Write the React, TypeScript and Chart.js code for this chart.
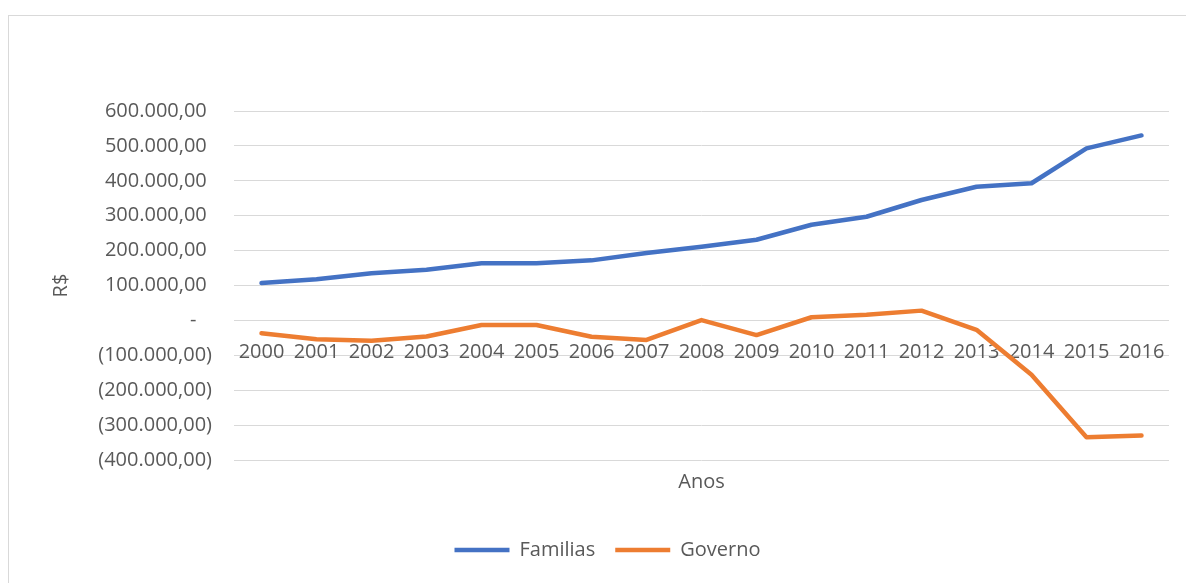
import React, { useEffect, useRef } from "react";
import { Chart, registerables } from "chart.js";

Chart.register(...registerables);

const anos = ["2000", "2001", "2002", "2003", "2004", "2005", "2006", "2007", "2008", "2009", "2010", "2011", "2012", "2013", "2014", "2015", "2016"];
const familias = [107000, 118000, 135000, 145000, 164000, 164000, 172000, 193000, 211000, 231000, 274000, 297000, 345000, 383000, 393000, 493000, 530000];
const governo = [-37000, -54000, -58000, -46000, -13000, -13000, -47000, -56000, 1000, -42000, 9000, 16000, 28000, -27000, -156000, -335000, -330000];
const yMin = -400000;
const yMax = 600000;
const yStep = 100000;

const FONT = "'Open Sans', 'Noto Sans', sans-serif";
const TEXT = "#595959";

function fmtBR(v: number): string {
  const abs = Math.abs(Math.round(v));
  const s = String(abs).replace(/\B(?=(\d{3})+(?!\d))/g, ".") + ",00";
  if (v === 0) return "-   ";
  return v < 0 ? "(" + s + ")" : s + " ";
}

export default function App() {
  const ref = useRef<HTMLCanvasElement | null>(null);
  useEffect(() => {
    document.body.style.margin = "0";
    const canvas = ref.current;
    if (!canvas) return;
    const chart = new Chart(canvas, {
      type: "line",
      data: {
        labels: anos,
        datasets: [
          {
            label: "Familias",
            data: familias,
            borderColor: "#4472C4",
            backgroundColor: "#4472C4",
            borderWidth: 4.5,
            borderCapStyle: "round",
            borderJoinStyle: "round",
            pointRadius: 0,
            tension: 0,
            xAxisID: "x",
          },
          {
            label: "Governo",
            data: governo,
            borderColor: "#ED7D31",
            backgroundColor: "#ED7D31",
            borderWidth: 4.5,
            borderCapStyle: "round",
            borderJoinStyle: "round",
            pointRadius: 0,
            tension: 0,
            xAxisID: "x",
          },
        ],
      },
      options: {
        responsive: false,
        animation: false,
        layout: { padding: { left: 46, right: 17, top: 111, bottom: 13 } },
        plugins: {
          tooltip: { enabled: false },
          legend: {
            display: true,
            position: "bottom",
            labels: {
              usePointStyle: true,
              pointStyle: "line",
              pointStyleWidth: 55,
              padding: 20,
              color: TEXT,
              font: { family: FONT, size: 20 },
            },
          },
        },
        scales: {
          x: {
            type: "category",
            position: { y: 0 } as any,
            offset: true,
            grid: { display: false, drawTicks: false },
            border: { display: false },
            ticks: {
              color: TEXT,
              font: { family: FONT, size: 20 },
              padding: 20,
              maxRotation: 0,
              autoSkip: false,
            },
          },
          x2: {
            type: "category",
            position: "bottom",
            display: true,
            offset: true,
            grid: { display: false, drawTicks: false },
            border: { display: false },
            ticks: { display: false },
            title: {
              display: true,
              text: "Anos",
              color: TEXT,
              font: { family: FONT, size: 20 },
              padding: { top: 10, bottom: 26 },
            },
          },
          y: {
            min: yMin,
            max: yMax,
            afterFit: (s: any) => {
              s.width = 188;
            },
            grid: { color: "#D9D9D9", lineWidth: 1, drawTicks: false },
            border: { display: false },
            ticks: {
              stepSize: yStep,
              color: TEXT,
              font: { family: FONT, size: 20 },
              padding: 22,
              callback: (v: any) => fmtBR(Number(v)),
            },
            title: {
              display: true,
              text: "R$",
              color: TEXT,
              font: { family: FONT, size: 20 },
              padding: { top: 3.5, bottom: 0 },
            },
          },
        },
      },
    });
    return () => chart.destroy();
  }, []);

  return (
    <div style={{ position: "fixed", left: 0, top: 0, width: 1186, height: 583, overflow: "hidden", background: "#fff" }}>
      <div style={{ position: "absolute", left: 8, top: 15, width: 1400, height: 800, border: "1px solid #D9D9D9", boxSizing: "border-box" }} />
      <canvas ref={ref} width={1186} height={583} style={{ position: "absolute", left: 0, top: 0, width: 1186, height: 583 }} />
    </div>
  );
}
